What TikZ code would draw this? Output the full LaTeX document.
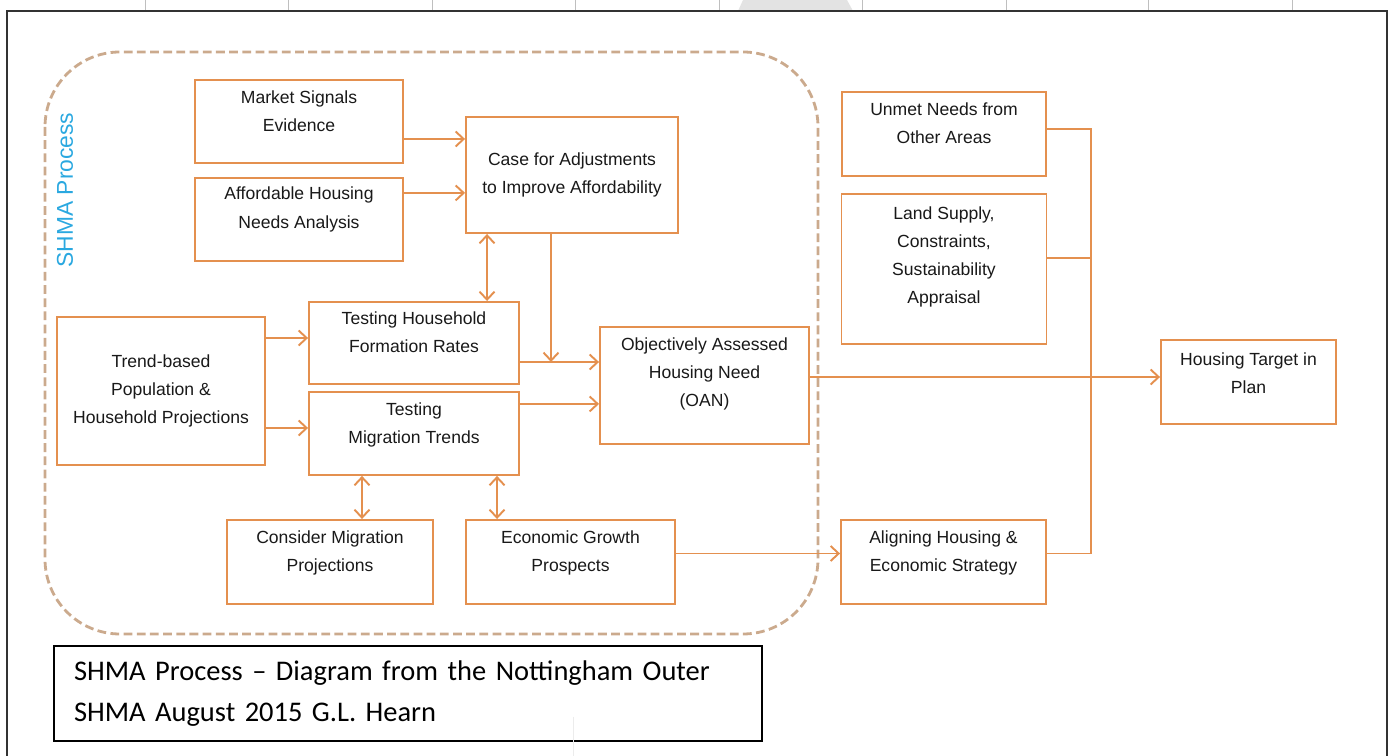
\documentclass[tikz,border=0pt]{standalone}
\usepackage{fontspec}
\setmainfont{Liberation Sans}
\newfontfamily\captionfont{Carlito}
\usetikzlibrary{arrows.meta, positioning, calc}
\definecolor{shmaorange}{HTML}{E4904F}
\definecolor{shmatan}{HTML}{CBAA8D}
\definecolor{shmablue}{HTML}{2AA8E0}

\begin{document}
\begin{tikzpicture}[
    x=0.02cm, y=-0.02cm,
    box/.style={draw=shmaorange, line width=1.1pt, fill=white, align=center, text=black!90, font=\fontsize{10}{16}\selectfont, inner sep=2pt},
    lift/.style={text depth=#1},
    lift/.default=0.42cm,
    arr/.style={-{Straight Barb[length=1.6mm, width=3mm]}, shmaorange, line width=1.1pt},
    darr/.style={{Straight Barb[length=1.6mm, width=3mm]}-{Straight Barb[length=1.6mm, width=3mm]}, shmaorange, line width=1.1pt},
    link/.style={shmaorange, line width=1.1pt},
    region/.style={shmatan, line width=1.6pt, dash pattern=on 5pt off 2.5pt, rounded corners=1.5cm},
]
    \useasboundingbox (0,0) rectangle (1394,756);

    % page frame
    \fill[gray!22] (738,11) -- (743,0) -- (847,0) -- (853,11) -- cycle;
    \foreach \tx in {145,288,432,575,719,862,1006,1148,1292}
        \draw[gray!50, line width=0.3pt] (\tx,0) -- (\tx,11);
    \draw[black!80, line width=0.8pt] (7,756) -- (7,11) -- (1387,11) -- (1387,756);

    % SHMA region
    \draw[region] (45,52) rectangle (818,634);
    \node[rotate=90, text=shmablue, font=\fontsize{13}{15}\selectfont] (shmalabel) at (65,190) {SHMA Process};

    \node[box, lift, minimum width=4.16cm, minimum height=1.66cm] (ms) at (299,121.5) {Market Signals\\Evidence};
    \node[box, lift=0.47cm, minimum width=4.16cm, minimum height=1.66cm, below=0.26cm of ms] (af) {Affordable Housing\\Needs Analysis};
    \node[box, minimum width=4.24cm, minimum height=2.32cm] (case) at (572,175) {Case for Adjustments\\to Improve Affordability};
    \node[box, lift, minimum width=4.2cm, minimum height=1.64cm] (thh) at (414,343) {Testing Household\\Formation Rates};
    \node[box, lift, minimum width=4.2cm, minimum height=1.66cm, below=0.12cm of thh] (tmt) {Testing\\Migration Trends};
    \node[box, minimum width=4.16cm, minimum height=2.96cm] (trend) at (161,391) {Trend-based\\Population \&\\Household Projections};
    \node[box, lift=0.53cm, minimum width=4.18cm, minimum height=2.34cm] (oan) at (704.5,385.5) {Objectively Assessed\\Housing Need\\(OAN)};
    \node[box, lift, minimum width=4.12cm, minimum height=1.68cm] (cm) at (330,562) {Consider Migration\\Projections};
    \node[box, lift, minimum width=4.18cm, minimum height=1.68cm] (eg) at (570.5,562) {Economic Growth\\Prospects};

    % outside the SHMA
    \node[box, lift, minimum width=4.08cm, minimum height=1.68cm] (un) at (944,134) {Unmet Needs from\\Other Areas};
    \node[box, lift=0.55cm, minimum width=4.1cm, minimum height=3cm, below=0.32cm of un] (ls) {Land Supply,\\Constraints,\\Sustainability\\Appraisal};
    \node[box, lift=0.36cm, minimum width=3.5cm, minimum height=1.68cm] (tgt) at (1248.5,382) {Housing Target in\\Plan};
    \node[box, lift, minimum width=4.1cm, minimum height=1.68cm] (al) at (943.5,562) {Aligning Housing \&\\Economic Strategy};

    % caption
    \node[draw=black, line width=0.9pt, fill=white, minimum width=14.16cm, minimum height=1.9cm, text width=13.36cm, inner xsep=0.4cm, align=left, font=\captionfont\fontsize{16.2}{23.8}\selectfont] (cap) at (408,693.5) {SHMA Process – Diagram from the Nottingham Outer\\SHMA August 2015 G.L. Hearn};
    \draw[gray!15, line width=0.5pt] (573,717) -- (573,756);

    % connectors
    \draw[arr] ([yshift=-0.35cm]ms.east) -- ([yshift=-0.35cm]ms.east -| case.west);
    \draw[arr] ([yshift=0.53cm]af.east) -- ([yshift=0.53cm]af.east -| case.west);
    \draw[darr] ([xshift=-1.7cm]case.south) -- ([xshift=-1.7cm]case.south |- thh.north);
    \coordinate (hh) at ([yshift=-0.38cm]thh.east);
    \draw[arr] (hh) -- (hh -| oan.west);
    \draw[arr] ([xshift=-0.42cm]case.south) -- ([xshift=-0.42cm]case.south |- hh);
    \draw[arr] ([yshift=0.59cm]tmt.east) -- ([yshift=0.59cm]tmt.east -| oan.west);
    \draw[arr] ([yshift=1.06cm]trend.east) -- ([yshift=1.06cm]trend.east -| thh.west);
    \draw[arr] ([yshift=-0.74cm]trend.east) -- ([yshift=-0.74cm]trend.east -| tmt.west);
    \draw[darr] ([xshift=0.64cm]cm.north) -- ([xshift=0.64cm]cm.north |- tmt.south);
    \draw[darr] ([xshift=-1.47cm]eg.north) -- ([xshift=-1.47cm]eg.north |- tmt.south);
    \draw[arr] ([yshift=0.17cm]eg.east) -- ([yshift=0.17cm]eg.east -| al.west);
    \draw[arr] ([yshift=0.17cm]oan.east) -- ([yshift=0.17cm]oan.east -| tgt.west);

    % side inputs
    \draw[link] ([yshift=0.1cm]un.east) -- ++(0.88cm,0) coordinate (bus) |- ([yshift=0.17cm]al.east);
    \draw[link] ([yshift=0.22cm]ls.east) -- ([yshift=0.22cm]ls.east -| bus);
\end{tikzpicture}
\end{document}
